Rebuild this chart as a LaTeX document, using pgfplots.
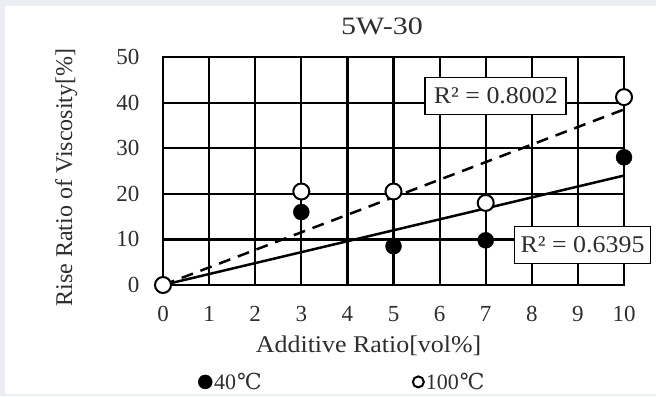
\documentclass[border=0pt]{standalone}
\usepackage{pgfplots}
\pgfplotsset{compat=1.18}
\usepackage{fontspec}
\setmainfont{Liberation Serif}
\newfontfamily\dejavu{DejaVu Serif}
\newfontfamily\hs[FakeStretch=1.08]{Liberation Serif}
\newfontfamily\htt[FakeStretch=1.2]{Liberation Serif}
\newcommand{\degC}{{\dejavu\kern1bp ℃}}
\newcommand{\fs}{\fontsize{24bp}{28bp}\selectfont}
\newcommand{\fk}{\fontsize{23bp}{27bp}\selectfont}
\newcommand{\fl}{\fontsize{22bp}{26bp}\selectfont}
\newcommand{\ft}{\htt\fontsize{25bp}{30bp}\selectfont}
\definecolor{txt}{rgb}{0.18,0.18,0.18}
\definecolor{framecol}{RGB}{234,237,241}
\begin{document}
\begin{tikzpicture}[x=1bp,y=1bp]
\fill[framecol] (0,0) rectangle (656,396);
\fill[white] (5,2) rectangle (656,390);
\useasboundingbox (0,0) rectangle (656,396);
\begin{axis}[
 at={(163bp,111bp)}, anchor=south west,
 width=461bp, height=228bp, scale only axis,
 xmin=0, xmax=10, ymin=0, ymax=50,
 xtick={0,1,...,10}, ytick={0,10,...,50},
 major tick length=0pt,
 grid=major, grid style={black, line width=2.2bp},
 axis line style={black, line width=2.2bp},
 clip=false,
 /pgf/number format/assume math mode=true,
 ticklabel style={font=\fk, text=txt},
 yticklabel style={xshift=-20bp},
 xticklabel style={yshift=-18bp},
 title={5W-30},
 title style={at={(axis description cs:0.475,1.11)}, anchor=center, font=\ft, text=txt},
 xlabel={Additive Ratio[vol\%]},
 xlabel style={at={(axis description cs:0.446,-0.268)}, anchor=center, font=\hs\fs, text=txt},
 ylabel={Rise Ratio of Viscosity[\%]},
 ylabel style={at={(axis description cs:-0.21,0.471)}, anchor=center, font=\fs, text=txt},
 legend columns=2,
 legend style={at={(axis description cs:0.389,-0.425)}, anchor=center, draw=none, fill=none,
   font=\fl, text=txt, /tikz/every even column/.append style={column sep=149bp}},
 legend image code/.code={\draw[#1] plot coordinates {(0bp,0bp)};},
]
\addplot[forget plot, black, line width=2.5bp] coordinates {(0,0) (10,24)};
\addplot[forget plot, black, line width=2.5bp, dash pattern=on 12bp off 8bp] coordinates {(0,0) (10,38.5)};
\addplot[only marks, mark=*, mark size=8bp, mark options={fill=black, draw=black},
  legend image post style={mark size=7bp}]
  coordinates {(0,0) (3,16) (5,8.5) (7,9.8) (10,28)};
\addlegendentry{40\degC}
\addplot[only marks, mark=*, mark size=8bp, mark options={fill=white, draw=black, line width=2bp},
  legend image post style={mark size=5.5bp}]
  coordinates {(0,0) (3,20.5) (5,20.5) (7,18) (10,41.2)};
\addlegendentry{100\degC}
\node[draw=black, line width=1.8bp, fill=white, minimum width=141bp, minimum height=37bp,
  inner sep=0pt, font=\hs\fs, text=txt] at (axis cs:7.22,41.45) {R² = 0.8002};
\node[draw=black, line width=1.8bp, fill=white, minimum width=136bp, minimum height=37bp,
  inner sep=0pt, font=\hs\fs, text=txt] at (axis cs:9.10,8.77) {R² = 0.6395};
\end{axis}
\end{tikzpicture}
\end{document}
